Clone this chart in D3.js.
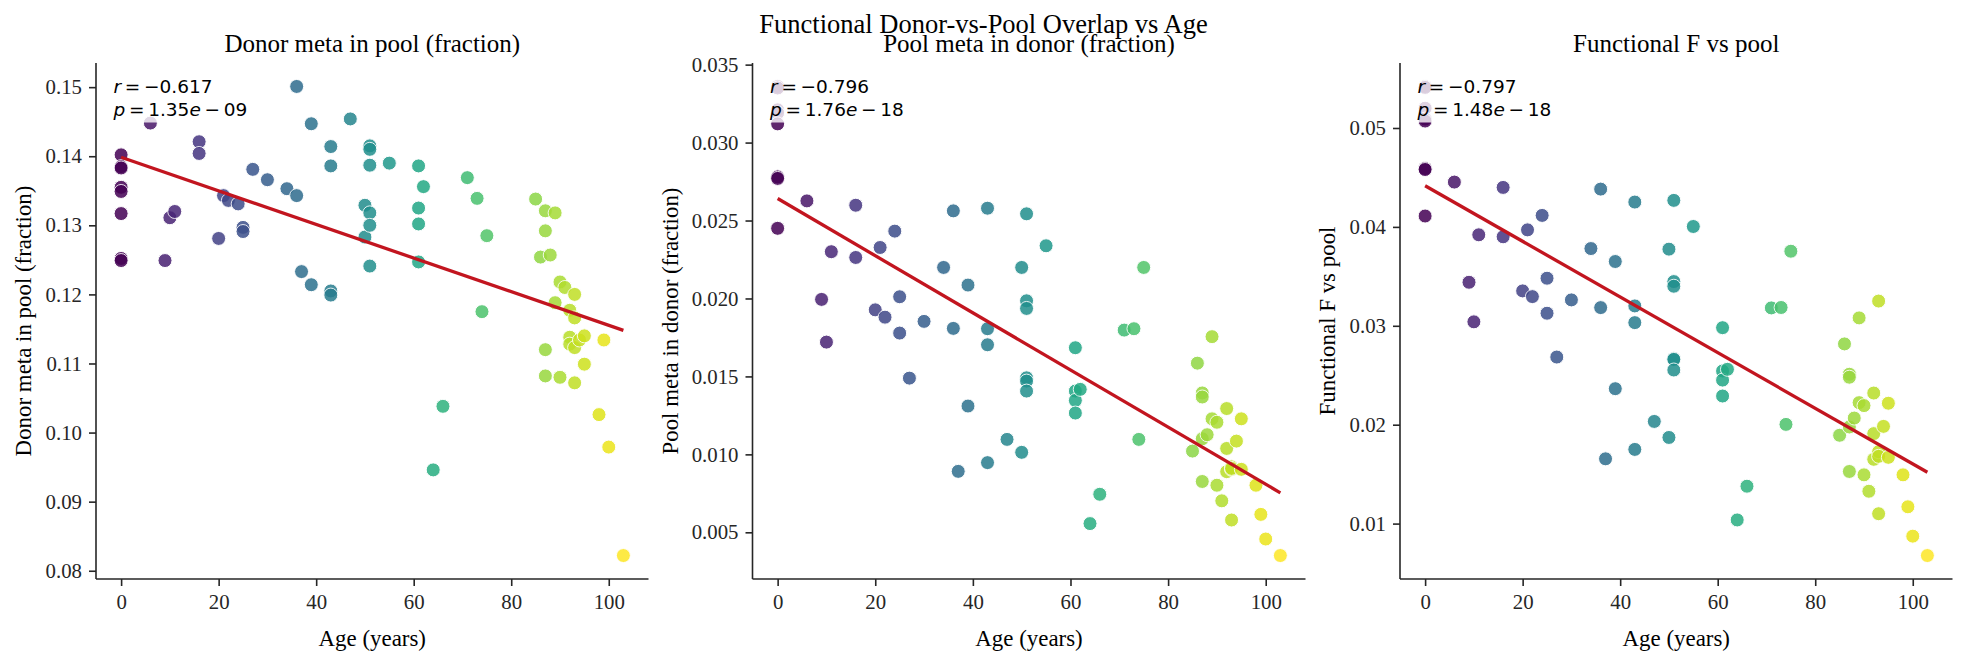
<!DOCTYPE html>
<html>
<head>
<meta charset="utf-8">
<script src="https://cdn.jsdelivr.net/npm/d3@7/dist/d3.min.js"></script>
<style>
  html, body { margin: 0; padding: 0; background: #ffffff; }
  svg { display: block; }
</style>
</head>
<body>
<script>
// ---------------- DATA ----------------
const ages = [
  0, 0, 0, 0, 0, 0, 0, 0,
  6, 9, 10, 11, 16, 16, 20, 21, 22, 24, 25, 25, 27, 30, 34, 36, 36, 37, 39, 39,
  43, 43, 43, 43, 47, 50, 50, 51, 51, 51, 51, 51, 51, 55, 61, 61, 61, 61, 62, 64, 66,
  71, 73, 74, 75,
  85, 86, 87, 87, 87, 87, 88, 89, 89, 90, 90, 91, 92, 92, 92, 93, 93, 93, 93, 94, 95, 95,
  98, 99, 100, 103
];
const donorMetaInPool = [
  0.1402, 0.1385, 0.1383, 0.1355, 0.1349, 0.1317, 0.1252, 0.1249,
  0.1448, 0.1249, 0.1311, 0.1320, 0.1421, 0.1404, 0.1281, 0.1343, 0.1336, 0.1331, 0.1297, 0.1291,
  0.1381, 0.1366, 0.1353, 0.1501, 0.1343, 0.1233, 0.1447, 0.1214,
  0.1414, 0.1386, 0.1205, 0.1199, 0.1454, 0.1329, 0.1283, 0.1415, 0.1410, 0.1387, 0.1318, 0.1300, 0.1241,
  0.1390, 0.1386, 0.1325, 0.1302, 0.1247, 0.1356, 0.0946, 0.1038,
  0.1369, 0.1339, 0.1175, 0.1285,
  0.1338, 0.1254, 0.1321, 0.1292, 0.1120, 0.1082, 0.1257, 0.1318, 0.1188, 0.1218, 0.1080, 0.1210,
  0.1177, 0.1138, 0.1128, 0.1200, 0.1166, 0.1123, 0.1072, 0.1134, 0.1140, 0.1099,
  0.1026, 0.1134, 0.0979, 0.0822
];
const poolMetaInDonor = [
  0.0336, 0.0335, 0.0321, 0.0319, 0.0312, 0.0278, 0.0277, 0.0245,
  0.02626, 0.01994, 0.0172, 0.0230, 0.02598, 0.02263, 0.01927, 0.02327, 0.0188, 0.02432, 0.02011, 0.01778,
  0.01489, 0.01853, 0.02199, 0.02562, 0.01808, 0.00891, 0.02086, 0.0131,
  0.02579, 0.01806, 0.01703, 0.00947, 0.01096, 0.02199, 0.01013, 0.02543, 0.01985, 0.01936, 0.01491, 0.0147, 0.01406,
  0.02338, 0.01684, 0.01406, 0.01346, 0.01265, 0.01417, 0.00556, 0.00744,
  0.01797, 0.01806, 0.01096, 0.02199,
  0.01021, 0.01585, 0.01394, 0.01368, 0.0110, 0.00826, 0.01126, 0.01755, 0.01228, 0.01206, 0.00802, 0.00702,
  0.01294, 0.01038, 0.00889, 0.00920, 0.00904, 0.00910, 0.00579, 0.01085, 0.01228, 0.00904,
  0.00802, 0.00615, 0.00457, 0.00351
];
const functionalF = [
  0.0542, 0.0541, 0.0520, 0.0509, 0.0507, 0.0459, 0.0458, 0.0411,
  0.04453, 0.0344, 0.0304, 0.0392, 0.04399, 0.0390, 0.03353, 0.0397, 0.03295, 0.04116, 0.03481, 0.03127,
  0.02684, 0.03262, 0.03781, 0.04382, 0.03184, 0.01655, 0.0365, 0.02364,
  0.04251, 0.03201, 0.03032, 0.0175, 0.02033, 0.03775, 0.01871, 0.04268, 0.03447, 0.0340, 0.02667, 0.0266, 0.02553,
  0.04004, 0.02981, 0.02543, 0.02451, 0.0229, 0.0256, 0.01037, 0.01378,
  0.03181, 0.03185, 0.02003, 0.03754,
  0.01893, 0.02817, 0.0251, 0.0248, 0.01977, 0.01527, 0.02067, 0.0308, 0.02223, 0.02193, 0.01493, 0.01327,
  0.0232, 0.0191, 0.0165, 0.0325, 0.01727, 0.0168, 0.0110, 0.01983, 0.02217, 0.0167,
  0.01493, 0.0117, 0.00873, 0.00677
];

const xTicks = [0, 20, 40, 60, 80, 100];
const yTicksDonor = [0.08, 0.09, 0.10, 0.11, 0.12, 0.13, 0.14, 0.15];
const yTicksPool = [0.005, 0.010, 0.015, 0.020, 0.025, 0.030, 0.035];
const yTicksF = [0.01, 0.02, 0.03, 0.04, 0.05];
const yTickLabelsDonor = ["0.08", "0.09", "0.10", "0.11", "0.12", "0.13", "0.14", "0.15"];
const yTickLabelsPool = ["0.005", "0.010", "0.015", "0.020", "0.025", "0.030", "0.035"];
const yTickLabelsF = ["0.01", "0.02", "0.03", "0.04", "0.05"];

const panelTitles = ["Donor meta in pool (fraction)", "Pool meta in donor (fraction)", "Functional F vs pool"];
const yLabels = ["Donor meta in pool (fraction)", "Pool meta in donor (fraction)", "Functional F vs pool"];
const rTexts = ["\u22120.617", "\u22120.796", "\u22120.797"];
const pTexts = [["1.35", "09"], ["1.76", "18"], ["1.48", "18"]];
const suptitle = "Functional Donor-vs-Pool Overlap vs Age";
const xLabel = "Age (years)";

// ---------------- LAYOUT ----------------
const W = 1967, H = 666;
const plotTop = 63, plotBottom = 579;
const panels = [
  { left: 96,   right: 648.5,  ylabelX: 23,   values: donorMetaInPool, ticks: yTicksDonor, tlabels: yTickLabelsDonor },
  { left: 752.5, right: 1305.5, ylabelX: 669.5, values: poolMetaInDonor, ticks: yTicksPool, tlabels: yTickLabelsPool },
  { left: 1400, right: 1952.5, ylabelX: 1326.5, values: functionalF, ticks: yTicksF, tlabels: yTickLabelsF }
];

const serif = "'Liberation Serif', 'Times New Roman', serif";
const sans = "'DejaVu Sans', sans-serif";
const ink = "#262626";

const svg = d3.select("body").append("svg").attr("width", W).attr("height", H)
  .style("background", "#fff");

svg.append("text")
  .attr("x", W / 2).attr("y", 33)
  .attr("text-anchor", "middle")
  .style("font-family", serif).style("font-size", "26.5px").attr("fill", "#000")
  .text(suptitle);

const ageExt = d3.extent(ages);
const ageSpan = ageExt[1] - ageExt[0];
const color = d3.scaleSequential(d3.interpolateViridis).domain(ageExt);

panels.forEach((p, i) => {
  const vExt = d3.extent(p.values);
  const vSpan = vExt[1] - vExt[0];
  const x = d3.scaleLinear().domain([ageExt[0] - 0.05 * ageSpan, ageExt[1] + 0.05 * ageSpan]).range([p.left, p.right]);
  const y = d3.scaleLinear().domain([vExt[0] - 0.05 * vSpan, vExt[1] + 0.05 * vSpan]).range([plotBottom, plotTop]);
  const g = svg.append("g");

  // axes
  const xAxis = d3.axisBottom(x).tickValues(xTicks).tickFormat(d3.format("d")).tickSizeOuter(0).tickSize(7).tickPadding(8);
  const gx = g.append("g").attr("transform", `translate(0,${plotBottom})`).call(xAxis);
  const yAxis = d3.axisLeft(y).tickValues(p.ticks).tickFormat((d, k) => p.tlabels[k]).tickSizeOuter(0).tickSize(7).tickPadding(7);
  const gy = g.append("g").attr("transform", `translate(${p.left},0)`).call(yAxis);
  [gx, gy].forEach(ax => {
    ax.select(".domain").attr("stroke", ink).attr("stroke-width", 1.6);
    ax.selectAll(".tick line").attr("stroke", ink).attr("stroke-width", 1.6);
    ax.selectAll(".tick text").attr("fill", ink).style("font-family", serif).style("font-size", "20.8px");
  });
  gx.select(".domain").attr("d", `M${p.left},0H${p.right}`);
  gy.select(".domain").attr("d", `M0,${plotTop}V${plotBottom}`);

  // points
  const idx = d3.range(ages.length);
  g.append("g").selectAll("circle").data(idx).join("circle")
    .attr("cx", k => x(ages[k]))
    .attr("cy", k => y(p.values[k]))
    .attr("r", 7)
    .attr("fill", k => color(ages[k]))
    .attr("stroke", "#ffffff")
    .attr("stroke-width", 1)
    .attr("opacity", 0.85);

  // regression line (least squares)
  const mx = d3.mean(ages), my = d3.mean(p.values);
  let sxy = 0, sxx = 0;
  idx.forEach(k => { sxy += (ages[k] - mx) * (p.values[k] - my); sxx += (ages[k] - mx) ** 2; });
  const slope = sxy / sxx, icpt = my - slope * mx;
  g.append("line")
    .attr("x1", x(ageExt[0])).attr("y1", y(icpt + slope * ageExt[0]))
    .attr("x2", x(ageExt[1])).attr("y2", y(icpt + slope * ageExt[1]))
    .attr("stroke", "#c2151f").attr("stroke-width", 3.3);

  // annotation with translucent box
  const ann = g.append("g");
  const tx = p.left + 0.03 * (p.right - p.left) + 1;
  const box = ann.append("rect");
  const t = ann.append("text").attr("x", tx).attr("y", 93)
    .style("font-family", sans).style("font-size", "18.5px").attr("fill", "#000");
  t.append("tspan").style("font-style", "italic").text("r");
  t.append("tspan").text("\u2009=\u2009" + rTexts[i]);
  const t2 = ann.append("text").attr("x", tx).attr("y", 115.5)
    .style("font-family", sans).style("font-size", "18.5px").attr("fill", "#000");
  t2.append("tspan").style("font-style", "italic").text("p");
  t2.append("tspan").text("\u2009=\u2009" + pTexts[i][0]);
  t2.append("tspan").style("font-style", "italic").text("e");
  t2.append("tspan").text("\u2009\u2212\u2009" + pTexts[i][1]);
  const b1 = t.node().getBBox(), b2 = t2.node().getBBox();
  const bx0 = Math.min(b1.x, b2.x) - 5, bx1 = Math.max(b1.x + b1.width, b2.x + b2.width) + 5;
  const by0 = b1.y - 3, by1 = b2.y + b2.height + 3;
  box.attr("x", bx0).attr("y", by0).attr("width", bx1 - bx0).attr("height", by1 - by0)
    .attr("rx", 4).attr("fill", "#ffffff").attr("fill-opacity", 0.8);

  // titles and labels
  svg.append("text")
    .attr("x", (p.left + p.right) / 2).attr("y", 52)
    .attr("text-anchor", "middle")
    .style("font-family", serif).style("font-size", "25px").attr("fill", "#000")
    .text(panelTitles[i]);
  svg.append("text")
    .attr("x", (p.left + p.right) / 2).attr("y", 646)
    .attr("text-anchor", "middle")
    .style("font-family", serif).style("font-size", "22.9px").attr("fill", "#000")
    .text(xLabel);
  svg.append("text")
    .attr("transform", `translate(${p.ylabelX},${(plotTop + plotBottom) / 2}) rotate(-90)`)
    .attr("text-anchor", "middle").attr("dy", "0.35em")
    .style("font-family", serif).style("font-size", "22.9px").attr("fill", "#000")
    .text(yLabels[i]);
});
</script>
</body>
</html>
